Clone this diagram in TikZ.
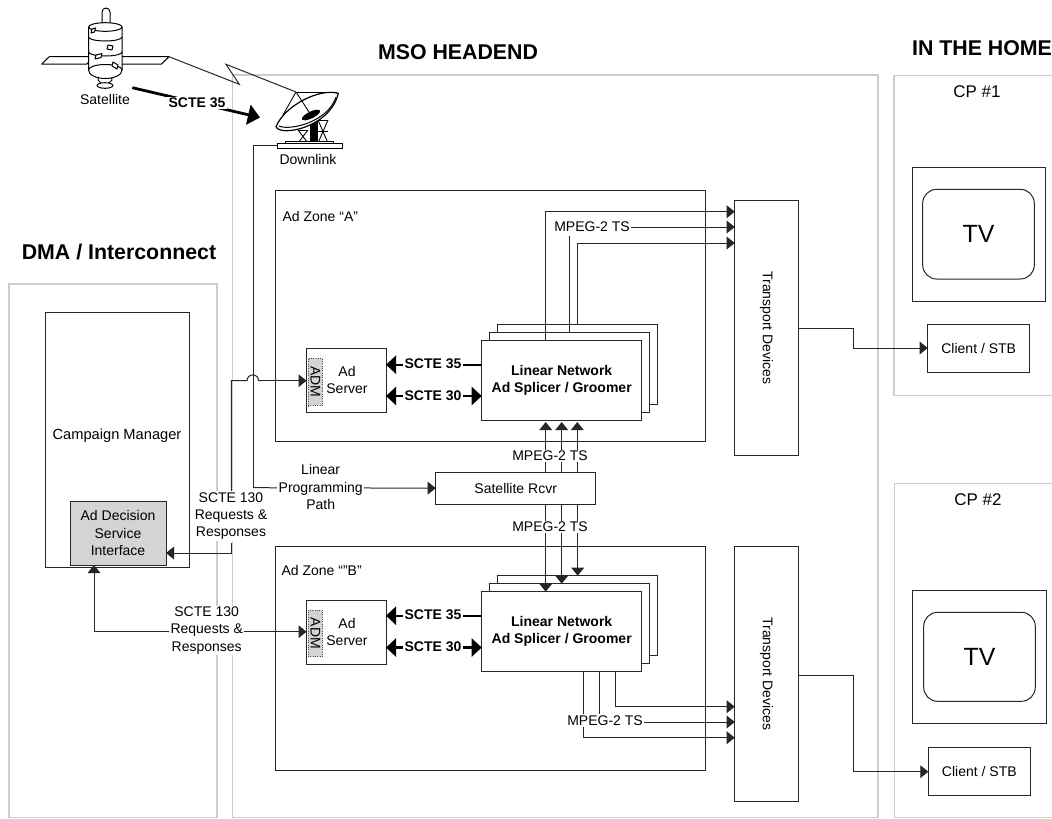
\documentclass[tikz,border=0pt]{standalone}
\usepackage{fontspec}
\setmainfont{Liberation Sans}
\usetikzlibrary{arrows.meta}
\newcommand{\fs}[1]{\fontsize{#1}{12.8pt}\selectfont}
\newcommand{\bx}[7][]{%
  \pgfmathsetmacro\bxw{(#5-#3)*0.75}\pgfmathsetmacro\bxh{(#6-#4)*0.75}%
  \node[boxbase,minimum width=\bxw pt,minimum height=\bxh pt,#1] (#2) at ({(#3+#5)/2},{(#4+#6)/2}) {#7};}
\tikzset{
  x=0.75pt,y=-0.75pt,
  boxbase/.style={draw=black!85,line width=0.75pt,fill=white,inner sep=0pt,outer sep=0pt,align=center,font=\fs{10.5}},
  grayzone/.style={draw=black!20,line width=1.1pt,fill=none},
  txt/.style={inner sep=1pt,align=center,font=\fs{10.5}},
  gaptxt/.style={txt,fill=white},
  head/.style={font=\fs{16}\bfseries,inner sep=0pt},
  link/.style={draw=black!85,line width=0.75pt,-{Triangle[length=6pt,width=9.5pt]}},
  plainlink/.style={draw=black!85,line width=0.75pt},
  fat/.style={draw=black,line width=1.7pt,-{Triangle[length=7.5pt,width=13.5pt]}},
  fatboth/.style={draw=black,line width=1.7pt,{Triangle[length=7.5pt,width=13.5pt]}-{Triangle[length=7.5pt,width=13.5pt]}},
  boldtxt/.style={inner sep=1pt,fill=white,font=\fs{10.5}\bfseries},
  fig/.style={draw=black,line width=0.75pt,fill=white,line join=round},
}
\begin{document}
\begin{tikzpicture}
\useasboundingbox (0,0) rectangle (1052,818);
\fill[white] (0,0) rectangle (1052,818);
% gray containers
\bx[grayzone]{dma}{9}{284}{217}{817.3}{}
\bx[grayzone]{mso}{232.5}{75}{878}{817.3}{}
\draw[grayzone] (1052,75.7) -- (894,75.7) -- (894,395.7) -- (1052,395.7);
\draw[grayzone] (1052,483.5) -- (894.5,483.5) -- (894.5,817.3) -- (1052,817.3);
% headings
\node[head] (hmso) at (458,52) {MSO HEADEND};
\node[head] (hhome) at (982,48) {IN THE HOME};
\node[head] (hdma) at (119,252) {DMA / Interconnect};
\node[txt,font=\fs{12.7}] (cp1) at (977,92) {CP \#1};
\node[txt,font=\fs{12.7}] (cp2) at (978,500) {CP \#2};
% zones
\bx{zoneA}{275}{190}{705.5}{441.5}{}
\bx{zoneB}{275}{546.5}{705.5}{770}{}
\node[txt,anchor=west] (zla) at (281,216.5) {Ad Zone “A”};
\node[txt,anchor=west] (zlb) at (280,570.7) {Ad Zone “”B”};
% campaign manager
\bx{cm}{45.5}{312}{189}{567.5}{}
\node[txt,font=\fs{11}] (cmt) at (117,436) {Campaign Manager};
\bx[fill=black!17]{ads}{70}{501}{166}{565}{Ad Decision\\Service\\Interface}
% transport
\bx{trA}{734.7}{200.5}{798.3}{455.7}{}
\bx{trB}{734.7}{546.3}{798.3}{801.7}{}
\node[txt,rotate=-90] (trAt) at (766.5,328) {Transport Devices};
\node[txt,rotate=-90] (trBt) at (766.5,674) {Transport Devices};
% splicers
\bx{splA3}{497.5}{324.7}{657.3}{404.7}{}
\bx{splA2}{489.5}{332.7}{649.3}{412.7}{}
\bx[font=\fs{10.5}\bfseries]{splA}{481.7}{340.7}{641.7}{420.7}{Linear Network\\Ad Splicer / Groomer}
\bx{splB3}{497.5}{575.7}{657.3}{655.7}{}
\bx{splB2}{489.5}{583.7}{649.3}{663.7}{}
\bx[font=\fs{10.5}\bfseries]{splB}{481.7}{591.7}{641.7}{671.7}{Linear Network\\Ad Splicer / Groomer}
% ad servers
\bx{adA}{306.5}{348.7}{386}{412.7}{}
\bx{adB}{306.5}{600}{386}{664}{}
\bx[densely dotted,fill=black!17,draw=black!70]{admA}{308}{358.3}{322.5}{405.7}{}
\bx[densely dotted,fill=black!17,draw=black!70]{admB}{308}{610.3}{322.5}{656.7}{}
\node[txt,rotate=-90,inner sep=0pt] (admAt) at (315.5,382) {ADM};
\node[txt,rotate=-90,inner sep=0pt] (admBt) at (315.5,633.5) {ADM};
\node[txt] (adAt) at (347,380) {Ad\\Server};
\node[txt] (adBt) at (347,632) {Ad\\Server};
% receiver
\bx{rcvr}{435.7}{472.3}{595.7}{504}{Satellite Rcvr}
% clients and TVs
\bx{stbA}{927.7}{324.7}{1029.7}{372.7}{Client / STB}
\bx{stbB}{928.3}{747.3}{1030.3}{795.3}{Client / STB}
\bx{tvoA}{912}{167.3}{1045.7}{301.3}{}
\bx{tvoB}{912.7}{590}{1046.7}{723.7}{}
\bx[rounded corners=10.5pt,font=\fs{18.7}]{tvA}{922.7}{189.3}{1034.3}{279}{TV}
\bx[rounded corners=10.5pt,font=\fs{18.7}]{tvB}{923.7}{612.3}{1035.3}{701.3}{TV}
% satellite
\coordinate (satpanel) at (169,56.7);
\coordinate (dishtop) at (296,92);
\draw[fig] (102,24) -- (102,12) arc[start angle=180,end angle=360,radius=4] -- (110,24);
\draw[fig] (41.7,64) -- (49.3,56.7) -- (93,56.7) -- (87,64) -- cycle;
\draw[fig] (122,56.7) -- (169,56.7) -- (161.7,64) -- (122,64);
\draw[fig] (99,74) -- (111,74) -- (112,80) -- (108,84) -- (102,84) -- (98,80) -- cycle;
\draw[fig] (105,85.5) ellipse[x radius=8,y radius=2.8];
\draw[fig] (88.5,27) arc[start angle=180,end angle=360,x radius=16.8,y radius=4.3] -- (122.1,70) arc[start angle=0,end angle=180,x radius=16.8,y radius=8.5] -- cycle;
\draw[fig,fill=none] (88.5,27) arc[start angle=180,end angle=0,x radius=16.8,y radius=4.3];
\draw[fig,fill=none] (88.5,37) arc[start angle=180,end angle=0,x radius=16.8,y radius=4];
\draw[fig,fill=none] (88.5,52) arc[start angle=180,end angle=0,x radius=16.8,y radius=4];
\draw[fig,fill=none] (88.5,70) arc[start angle=180,end angle=360,x radius=16.8,y radius=5.5];
\foreach \a/\b/\c/\d in {92/29/3.5/-1,108/45/5/1,96/55/6/-1.5,113/62/5/3}{
  \draw[fig] (\a,\b) -- ++(\c,\d) -- ++(-1,4) -- ++(-\c,-\d) -- cycle;}
\node[txt] (sattxt) at (105,99.5) {Satellite};
% lightning
\draw[plainlink] (satpanel) -- (239.3,84.3) -- (226,64.3) -- (dishtop);
% dish
\foreach \a/\b/\c/\d in {298/130/308/143,298/143/308/130,318/120/328/143,318/143/328/120,298/130/308/130,318/120/328/120,318/131/328/131}{
  \draw[line width=0.65pt] (\a,\b) -- (\c,\d);}
\fill[black] (310,118) rectangle (318,143);
\draw[fig] (285,141) rectangle (333,143.5);
\bx[draw=black]{dishbase}{277}{143.5}{342}{148}{}
\draw[fig,line width=0.9pt] (276,126.7) .. controls (280,137) and (330,128) .. (338.3,93.3)
   .. controls (320,88) and (285,105) .. cycle;
\draw[fig,fill=none] (279,126) .. controls (290,131) and (328,122) .. (336,97);
\draw[line width=0.65pt] (dishtop) -- (283,115);
\draw[line width=0.65pt] (dishtop) -- (337,92);
\draw[line width=0.65pt] (dishtop) -- (311,115);
\fill[black,rotate around={26:(311,115)}] (311,115) ellipse[x radius=10,y radius=3.4];
\node[txt] (downt) at (308,159) {Downlink};
% big SCTE 35
\coordinate (s35a) at (132.3,87.7);
\coordinate (s35b) at (260,117.5);
\draw[draw=black,line width=2.1pt,-{Triangle[length=9pt,width=15pt]}] (s35a) -- (s35b);
\node[boldtxt] (s35t) at (197,103) {SCTE 35};
% linear programming path
\draw[plainlink] (dishbase.west) -- (253,0 |- dishbase.west) -- (253,487.7);
\draw[link] (253,487.7) -- (rcvr.west);
\node[gaptxt] (lpp) at (320.7,487) {Linear\\Programming\\Path};
% SCTE 130 A
\draw[link] (231.3,543) -- (231.3,553) -- (ads.east |- 0,553);
\draw[plainlink] (231.3,500) -- (231.3,380.7) -- (247,380.7) arc[start angle=180,end angle=360,radius=5.8] -- (262,380.7);
\draw[link] (258.6,380.7) -- (adA.west |- 0,380.7);
\node[gaptxt,fill=white] (s130a) at (231,516) {SCTE 130\\Requests \&\\Responses};
% SCTE 130 B
\draw[link] (94,631.7) -- (94,0 |- ads.south);
\draw[link] (94,631.7) -- (adB.west |- 0,631.7);
\node[gaptxt] (s130b) at (206.7,630.5) {SCTE 130\\Requests \&\\Responses};
% fat links
\draw[fat] (splA.west |- 0,364.7) -- (adA.east |- 0,364.7);
\draw[fatboth] (adA.east |- 0,396) -- (splA.west |- 0,396);
\draw[fat] (splB.west |- 0,615.7) -- (adB.east |- 0,615.7);
\draw[fatboth] (adB.east |- 0,647.5) -- (splB.west |- 0,647.5);
\node[boldtxt] (a35) at (433,363.5) {SCTE 35};
\node[boldtxt] (a30) at (433,395.5) {SCTE 30};
\node[boldtxt] (b35) at (433,614.5) {SCTE 35};
\node[boldtxt] (b30) at (433,646.5) {SCTE 30};
% MPEG A in
\foreach \xx in {545.7,561.7,577.3}{
  \draw[link,shorten >=1pt] (\xx,0 |- rcvr.north) -- (\xx,0 |- splA.south);}
\node[gaptxt] (mp1) at (550,456) {MPEG-2 TS};
% MPEG B in
\draw[link] (545.7,0 |- rcvr.south) -- (545.7,0 |- splB.north);
\draw[link] (561.7,0 |- rcvr.south) -- (561.7,0 |- splB2.north);
\draw[link] (577.7,0 |- rcvr.south) -- (577.7,0 |- splB3.north);
\node[gaptxt] (mp2) at (550,527) {MPEG-2 TS};
% MPEG A out
\draw[link] (545.3,0 |- splA.north) -- (545.3,211.7) -- (trA.west |- 0,211.7);
\draw[plainlink] (569,0 |- splA2.north) -- (569,236);
\draw[link] (577.3,0 |- splA3.north) -- (577.3,243) -- (trA.west |- 0,243);
\draw[link] (630,227) -- (trA.west |- 0,227);
\node[gaptxt] (mp3) at (592,227) {MPEG-2 TS};
% MPEG B out
\draw[link] (615,0 |- splB.south) -- (615,706.7) -- (trB.west |- 0,706.7);
\draw[plainlink] (599,0 |- splB.south) -- (599,720);
\draw[link] (583.3,0 |- splB.south) -- (583.3,737.7) -- (trB.west |- 0,737.7);
\draw[link] (640,722) -- (trB.west |- 0,722);
\node[gaptxt] (mp4) at (605,720.5) {MPEG-2 TS};
% to clients
\draw[link] (trA.east |- 0,328) -- (853.3,328) -- (853.3,348) -- (stbA.west |- 0,348);
\draw[link] (trB.east |- 0,675) -- (853.3,675) -- (853.3,771.7) -- (stbB.west |- 0,771.7);
\end{tikzpicture}
\end{document}
